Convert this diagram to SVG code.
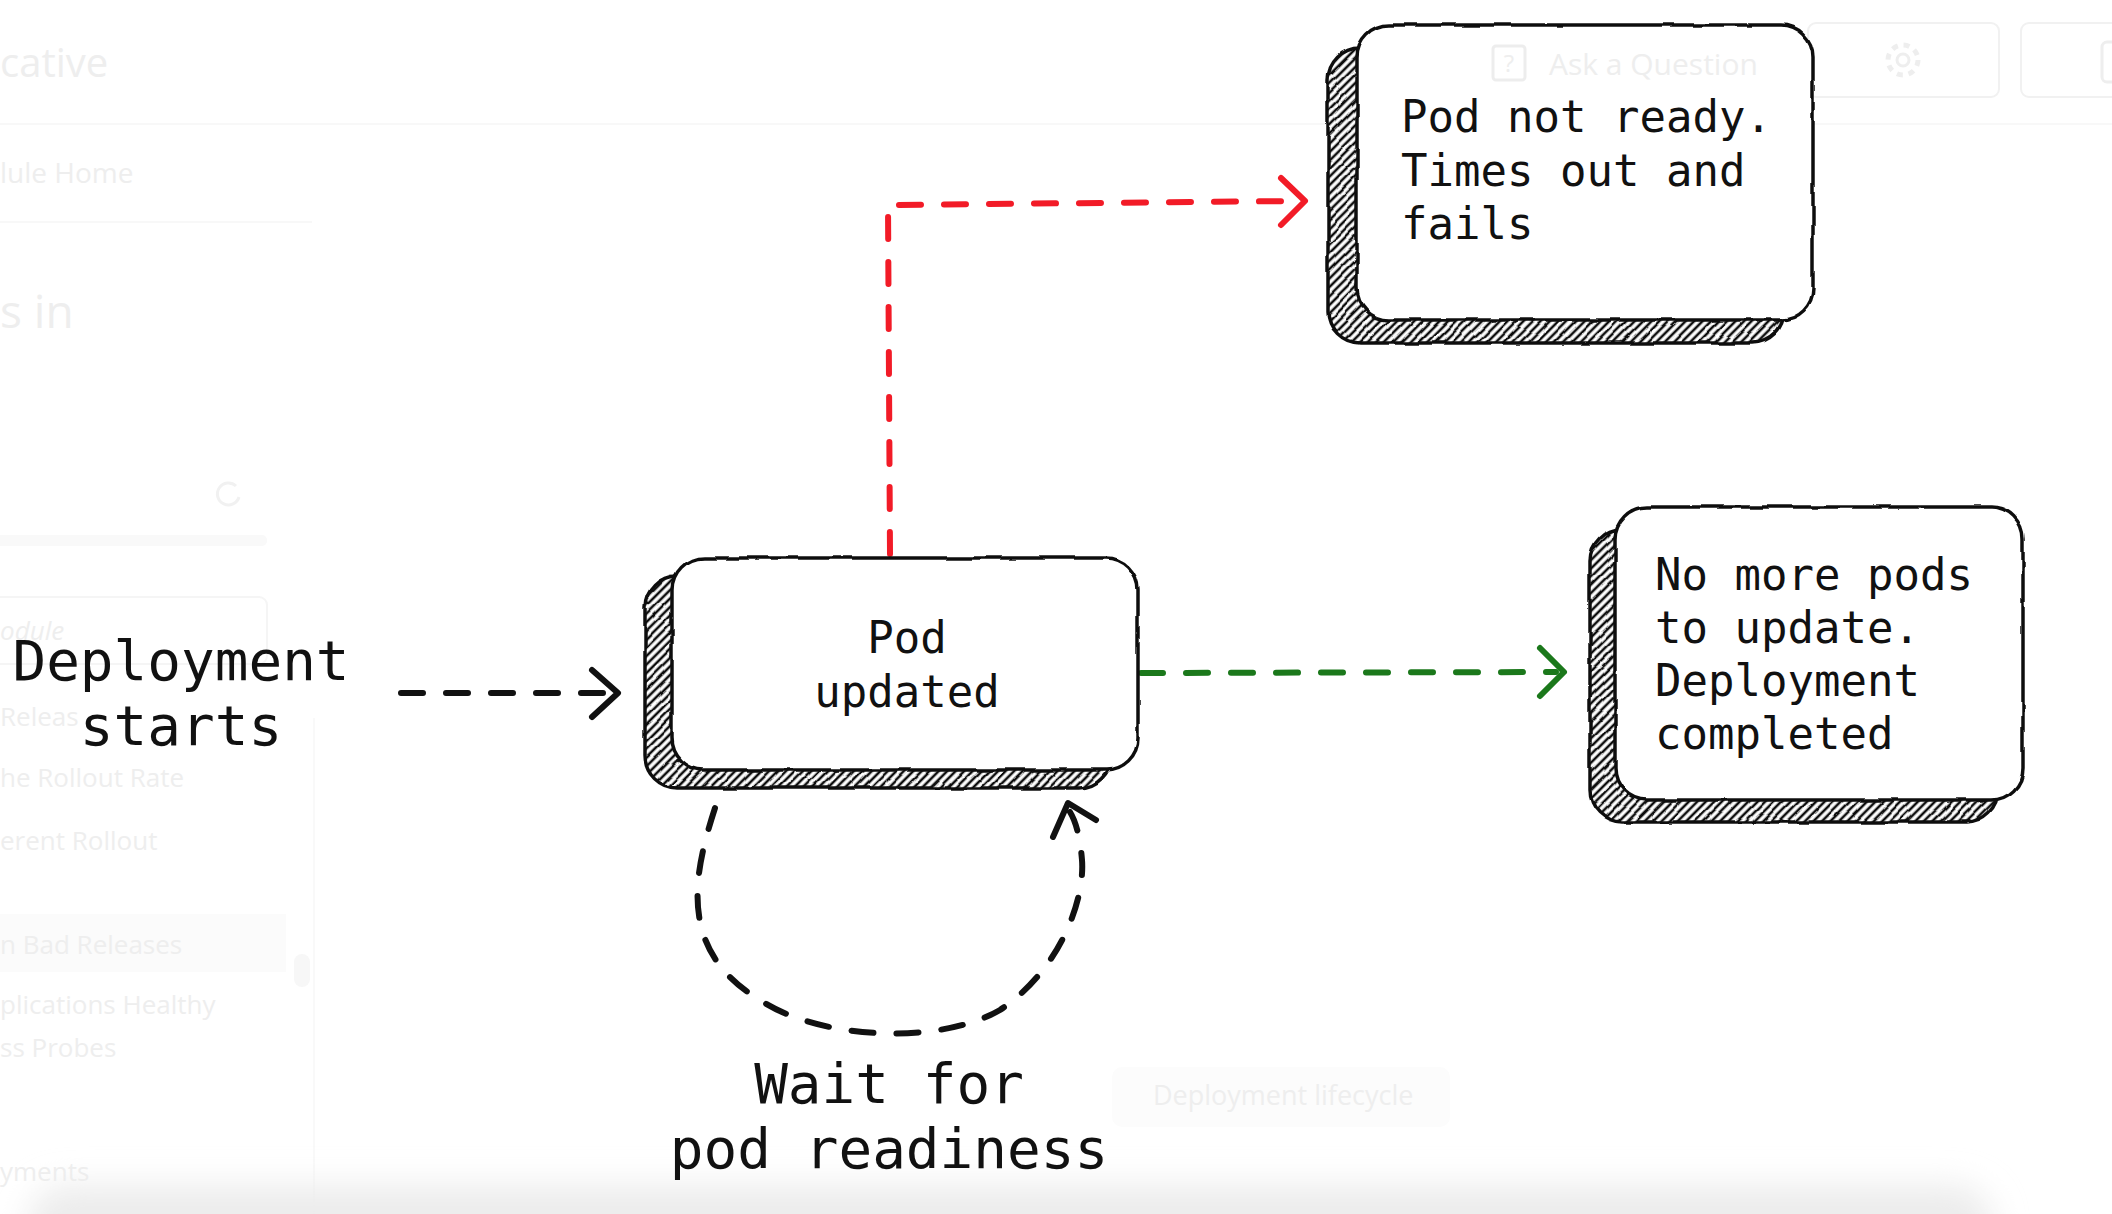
<svg xmlns="http://www.w3.org/2000/svg" width="2112" height="1214" viewBox="0 0 2112 1214">
<style>
.faint{font-family:"Open Sans","Liberation Sans",sans-serif;fill:#eeeeee}
.fline{stroke:#f4f4f4;stroke-width:2;fill:none}
.lbl{font-family:"DejaVu Sans Mono","Liberation Mono",monospace;fill:#111}
.n{font-size:44px}
.big{font-size:56px}
.box{fill:#fff;stroke:#111;stroke-width:3.5}
.shadow{fill:url(#hatch);stroke:#111;stroke-width:3.5}
.conn{fill:none;stroke-width:6;stroke-linecap:round;stroke-linejoin:round}
.dash{stroke-dasharray:22 23}
.blk{stroke:#111}
.red{stroke:#f21b27}
.grn{stroke:#1b781b}
</style>
<defs>
<pattern id="hatch" patternUnits="userSpaceOnUse" width="6" height="6" patternTransform="rotate(45)">
<rect width="6" height="6" fill="#fff"/>
<line x1="3" y1="-1" x2="3" y2="7" stroke="#111" stroke-width="2.6"/>
</pattern>
<filter id="rough" x="-4%" y="-4%" width="108%" height="108%">
<feTurbulence type="fractalNoise" baseFrequency="0.035" numOctaves="2" seed="7" result="noise"/>
<feDisplacementMap in="SourceGraphic" in2="noise" scale="4" xChannelSelector="R" yChannelSelector="G"/>
</filter>
<filter id="blur" x="-10%" y="-50%" width="120%" height="200%">
<feGaussianBlur stdDeviation="16"/>
</filter>
</defs>
<rect width="2112" height="1214" fill="#fff"/>
<g id="page-background">
<line class="fline" x1="0" y1="124" x2="2112" y2="124" style="stroke:#f8f8f8"/>
<line class="fline" x1="0" y1="222" x2="312" y2="222" style="stroke:#f8f8f8"/>
<text class="faint" x="0" y="77" font-size="40">cative</text>
<text class="faint" x="0" y="183" font-size="28">lule Home</text>
<text class="faint" x="0" y="328" font-size="46">s in</text>
<path d="M236 486 A11 11 0 1 0 239 497" fill="none" stroke="#f1f1f1" stroke-width="3"/>
<rect x="-10" y="535" width="277" height="11" rx="5" fill="#f9f9f9"/>
<rect x="-10" y="597" width="277" height="67" rx="8" fill="none" stroke="#f5f5f5" stroke-width="2"/>
<text class="faint" x="0" y="640" font-size="26" font-style="italic">odule</text>
<text class="faint" x="0" y="726" font-size="26">Releas</text>
<text class="faint" x="0" y="787" font-size="26">he Rollout Rate</text>
<text class="faint" x="0" y="850" font-size="26">erent Rollout</text>
<rect x="-10" y="914" width="296" height="58" fill="#fbfbfb"/>
<text class="faint" x="0" y="954" font-size="26">n Bad Releases</text>
<rect x="294" y="954" width="16" height="33" rx="8" fill="#f7f7f7"/>
<line class="fline" x1="314" y1="718" x2="314" y2="1214" style="stroke:#f9f9f9"/>
<text class="faint" x="0" y="1014" font-size="26">plications Healthy</text>
<text class="faint" x="0" y="1057" font-size="26">ss Probes</text>
<text class="faint" x="0" y="1181" font-size="26">yments</text>
<rect x="1112" y="1067" width="338" height="60" rx="10" fill="#fcfcfc"/>
<text class="faint" x="1153" y="1105" font-size="27">Deployment lifecycle</text>
<rect x="28" y="1185" width="1965" height="140" rx="40" fill="#ececec" filter="url(#blur)"/>
<rect x="1808" y="23" width="191" height="74" rx="8" fill="none" stroke="#f1f1f1" stroke-width="2"/>
<circle cx="1903" cy="60" r="6" fill="none" stroke="#eeeeee" stroke-width="3"/>
<circle cx="1903" cy="60" r="15" fill="none" stroke="#eeeeee" stroke-width="5" stroke-dasharray="6 5.8"/>
<rect x="2021" y="23" width="120" height="74" rx="8" fill="none" stroke="#f1f1f1" stroke-width="2"/>
<rect x="2102" y="42" width="20" height="40" rx="5" fill="none" stroke="#eeeeee" stroke-width="3"/>
</g>
<g id="connectors">
<g id="edge-start">
<path class="conn dash blk" d="M401 693 L606 693"/>
<polyline class="conn blk" points="592,670 618,693 592,717"/>
</g>
<g id="edge-fail">
<path class="conn dash red" d="M890 554 L888 205 L1296 201"/>
<polyline class="conn red" points="1281,178 1305,201 1281,225"/>
</g>
<g id="edge-complete">
<path class="conn dash grn" d="M1141 673 L1556 672"/>
<polyline class="conn grn" points="1540,648 1564,672 1540,696"/>
</g>
<g id="edge-loop">
<path class="conn dash blk" d="M715 808 C695 870 675 950 760 1000 C820 1040 940 1045 1000 1010 C1060 970 1085 900 1082 860 C1080 835 1075 820 1070 812"/>
<polyline class="conn blk" points="1053,837 1068,803 1096,820"/>
</g>
</g>
<g id="node-pod-updated">
<g filter="url(#rough)">
<rect class="shadow" x="645" y="576" width="466" height="212" rx="32"/>
<rect class="box" x="672" y="558" width="466" height="212" rx="32"/>
</g>
<text class="lbl n" x="907" y="653" text-anchor="middle">Pod</text>
<text class="lbl n" x="907" y="707" text-anchor="middle">updated</text>
</g>
<g id="node-not-ready">
<g filter="url(#rough)">
<rect class="shadow" x="1328" y="48" width="456" height="295" rx="32"/>
<rect class="box" x="1357" y="25" width="456" height="295" rx="32"/>
</g>
<text class="faint" x="1549" y="75" font-size="30">Ask a Question</text>
<rect x="1493" y="46" width="32" height="34" rx="3" fill="none" stroke="#ededed" stroke-width="3"/>
<text class="faint" x="1509" y="72" font-size="24" text-anchor="middle">?</text>
<text class="lbl n" x="1401" y="132">Pod not ready.</text>
<text class="lbl n" x="1401" y="186">Times out and</text>
<text class="lbl n" x="1401" y="239">fails</text>
</g>
<g id="node-completed">
<g filter="url(#rough)">
<rect class="shadow" x="1590" y="529" width="408" height="293" rx="32"/>
<rect class="box" x="1615" y="507" width="408" height="293" rx="32"/>
</g>
<text class="lbl n" x="1655" y="590">No more pods</text>
<text class="lbl n" x="1655" y="643">to update.</text>
<text class="lbl n" x="1655" y="696">Deployment</text>
<text class="lbl n" x="1655" y="749">completed</text>
</g>
<g id="label-start">
<text class="lbl big" x="181" y="680" text-anchor="middle">Deployment</text>
<text class="lbl big" x="181" y="745" text-anchor="middle">starts</text>
</g>
<g id="label-wait">
<text class="lbl big" x="889" y="1103" text-anchor="middle">Wait for</text>
<text class="lbl big" x="889" y="1168" text-anchor="middle">pod readiness</text>
</g>
</svg>
